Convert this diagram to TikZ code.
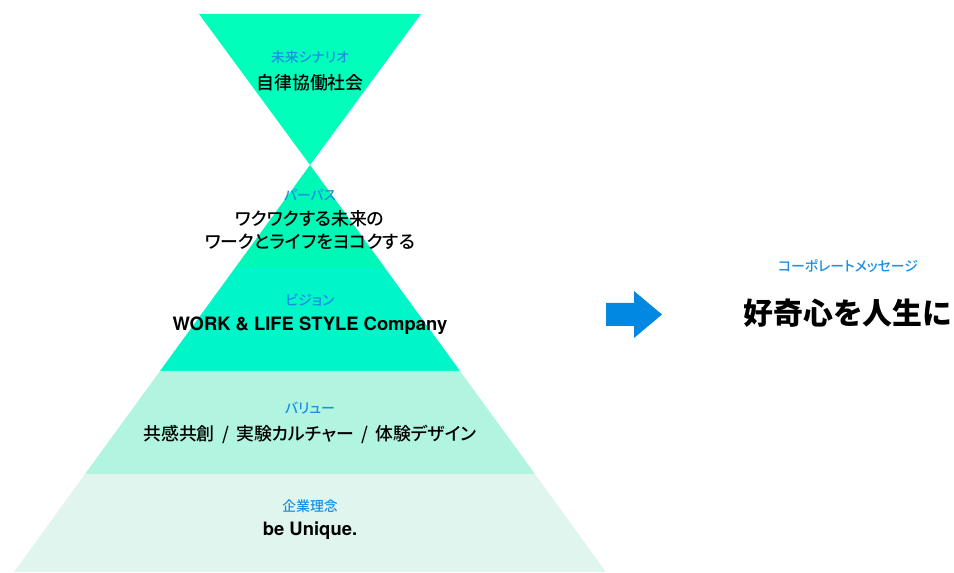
\documentclass[tikz,border=0pt]{standalone}
\usepackage{fontspec}
\setmainfont{Noto Sans CJK JP}
\newfontfamily\jpmedium{Noto Sans CJK JP Medium}[RawFeature=+palt]
\newfontfamily\latinfont{TeX Gyre Heros}
\usetikzlibrary{positioning}

\definecolor{futurecol}{HTML}{00FFBA}
\definecolor{purposecol}{HTML}{00F8B6}
\definecolor{visioncol}{HTML}{00F5C8}
\definecolor{valuecol}{HTML}{B1F4DF}
\definecolor{philocol}{HTML}{E0F5EE}
\definecolor{labelblue}{HTML}{1A8FE3}
\definecolor{arrowblue}{HTML}{0088E2}

\newcommand{\sepslash}{\hspace{2.5pt} / \hspace{2.5pt}}

\tikzset{
  tag/.style={font=\jpmedium\fontsize{10.4}{12}\selectfont, text=labelblue},
  body/.style={font=\jpmedium\fontsize{13.4}{17.2}\selectfont, align=center},
  latinbody/.style={font=\latinfont\fontsize{13.8}{17}\selectfont\bfseries},
  headline/.style={font=\fontsize{22.4}{26}\selectfont\bfseries}
}

\begin{document}
\begin{tikzpicture}[x=0.75pt, y=-0.75pt]
    \useasboundingbox (0,0) rectangle (954,573);

    % --- ВЕРХНИЙ ТРЕУГОЛЬНИК ---
    \coordinate (T) at (310,165);   % общая вершина
    \fill[futurecol] (199,14) -- (421,14) -- (T) -- cycle;

    % --- ПИРАМИДА: ПОЛОСЫ ---
    \fill[purposecol] (T) -- (385,268) -- (235,268) -- cycle;
    \fill[visioncol] (235,268) -- (385,268) -- (460,371) -- (160,371) -- cycle;
    \fill[valuecol] (160,371) -- (460,371) -- (535,474) -- (85,474) -- cycle;
    \fill[philocol] (85,474) -- (535,474) -- (606,572) -- (14,572) -- cycle;

    % --- ТЕКСТЫ ---
    \node[tag] (scenario) at (310,57) {未来シナリオ};
    \node[body] (society) at (310,83) {自律協働社会};

    \node[tag] (purposetag) at (310,195) {パーパス};
    \node[body] (purpose) at (310,230) {ワクワクする未来の\\ワークとライフをヨコクする};

    \node[tag] (visiontag) at (310,300) {ビジョン};
    \node[latinbody] (vision) at (310,326) {WORK \& LIFE STYLE Company};

    \node[tag] (valuetag) at (310,408) {バリュー};
    \node[body] (value) at (310,434) {共感共創\sepslash 実験カルチャー\sepslash 体験デザイン};

    \node[tag] (philotag) at (310,506) {企業理念};
    \node[latinbody] (philo) at (310,531) {be Unique.};

    % --- СТРЕЛКА ---
    \fill[arrowblue] (606,303) -- (634,303) -- (634,291) -- (662,314.5)
        -- (634,338) -- (634,326) -- (606,326) -- cycle;

    % --- КОРПОРАТИВНОЕ СООБЩЕНИЕ ---
    \node[tag] (msgtag) at (848,266) {コーポレートメッセージ};
    \node[headline] (msg) at (848,313) {好奇心を人生に};
\end{tikzpicture}
\end{document}
